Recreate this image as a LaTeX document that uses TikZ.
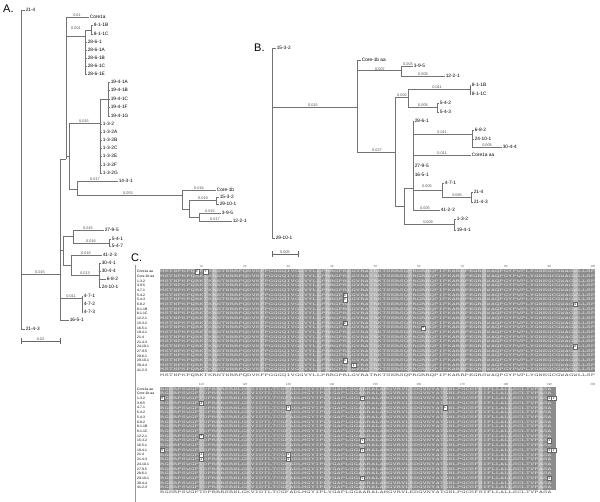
\documentclass[tikz,border=0pt]{standalone}
\usepackage{fontspec}
\setmainfont{Liberation Sans}
\usepackage{graphicx}

\newcommand{\seqA}{MSTNPKPQRKTKRNTNRRPQDVKFPGGGQIVGGVYLLPRRGPRLGVRATRKTSERSQPRGRRQPIPKARRPEGRSWAQPGYPWPLYGNEGCGWAGWLLSP}
\newcommand{\seqB}{RGSRPSWGPTDPRRRSRNLGKVIDTLTCGFADLMGYIPLVGAPLGGAARALAHGVRVLEDGVNYATGNLPGCSFSIFLLALLSCLTVPASA}

\begin{document}
\begin{tikzpicture}
  [
    x=1pt, y=-1pt,
    leaf/.style={anchor=west, inner sep=0.6pt, font=\fontsize{4.8}{5}\selectfont},
    blen/.style={anchor=south, inner sep=0.5pt, font=\fontsize{3.8}{4}\selectfont, text=black!70},
    branch/.style={draw=black!55, line width=0.45pt},
    panel/.style={anchor=base west, inner sep=0pt, font=\fontsize{11}{11}\selectfont},
    rowname/.style={anchor=west, inner sep=0pt, font=\fontsize{3.4}{3.4}\selectfont},
    seqtxt/.style={anchor=west, inner sep=0pt, font=\ttfamily, text=black!8},
    constxt/.style={anchor=west, inner sep=0pt, font=\ttfamily, text=black!70},
    tick/.style={inner sep=0pt, font=\fontsize{3}{3}\selectfont, text=black!60},
    var/.style={draw=black!60, fill=white, inner sep=0pt, minimum width=4.2pt, minimum height=4.3pt, font=\fontsize{3}{3}\selectfont\ttfamily},
    scalebar/.style={draw=black!60, line width=0.45pt, |-|}
  ]
  \useasboundingbox (0,0) rectangle (600,502);

  % panel letters
  \node[panel] (pA) at (3,12.5) {A.};
  \node[panel] (pB) at (254,52) {B.};
  \node[panel] (pC) at (131,262) {C.};

  % tree A: leaves
  \foreach \nm/\x/\y/\t in {
    a1/25/10/21-4, a2/89/17/Core1a, a3/93/25/8-1-1B, a4/93/34/8-1-1C,
    a5/87/42/28-6-1, a6/87/50/28-6-1A, a7/87/58/28-6-1B, a8/87/66/28-6-1C, a9/87/74/28-6-1E,
    a10/110/82/19-4-1A, a11/110/90/19-4-1B, a12/110/99/19-4-1C, a13/110/107/19-4-1F, a14/110/116/19-4-1G,
    a15/102/124/1-3-2, a16/102/132/1-3-2A, a17/102/140/1-3-2B, a18/102/148/1-3-2C,
    a19/102/156/1-3-2E, a20/102/165/1-3-2F, a21/102/173/1-3-2G,
    a22/118/181/14-3-1, a23/216/190/Core-1b, a24/219/197/15-3-2, a25/219/204/29-10-1,
    a26/221/213/3-9-5, a27/232/221/12-2-1,
    a28/104/230/27-9-5, a29/111/239/5-4-1, a30/111/246/5-4-7, a31/102/255/41-2-3,
    a32/101/263/30-4-1, a33/101/271/30-4-4, a34/106/279/6-8-2, a35/101/287/24-10-1,
    a36/83/296/4-7-1, a37/83/304/4-7-2, a38/83/312/4-7-3, a39/69/320/16-5-1, a40/25/329/21-4-3}
    \node[leaf] (\nm) at (\x,\y) {\t};

  % tree A: inner nodes
  \coordinate (ir) at (21,274);
  \coordinate (ip) at (60,274);
  \coordinate (iu) at (66,159);
  \coordinate (ic) at (85,36);
  \coordinate (ib) at (91,30);
  \coordinate (iv) at (69,156);
  \coordinate (ig) at (100,123);
  \coordinate (if) at (108,99);
  \coordinate (iw) at (77,189);
  \coordinate (ix) at (182,195);
  \coordinate (iy) at (189,209);
  \coordinate (iz) at (216,200);
  \coordinate (is) at (199,217);
  \coordinate (iq) at (63,250);
  \coordinate (ik) at (73,236);
  \coordinate (im) at (109,243);
  \coordinate (il) at (71,265);
  \coordinate (io) at (99,275);
  \coordinate (it) at (82,298);

  % tree A: branches
  \foreach \from/\to in {ir/ip,ip/iu,ip/iq,ip/it,iu/ic,iu/iv,ic/ib,iv/ig,iv/iw,ig/if,
    iw/ix,ix/iy,iy/iz,iy/is,iq/ik,iq/il,ik/im,il/io}
    \draw[branch] (\from) |- (\to);
  \foreach \from/\to in {ir/a1,ir/a40,ip/a39,iu/a2,ib/a3,ib/a4,ic/a5,ic/a6,ic/a7,ic/a8,ic/a9,
    if/a10,if/a11,if/a12,if/a13,if/a14,ig/a15,ig/a16,ig/a17,ig/a18,ig/a19,ig/a20,ig/a21,
    iw/a22,ix/a23,iz/a24,iz/a25,is/a26,is/a27,ik/a28,im/a29,im/a30,il/a31,
    io/a32,io/a33,io/a34,io/a35,it/a36,it/a37,it/a38}
    \draw[branch] (\from) |- (\to.west);

  % tree A: branch lengths
  \foreach \x/\y/\t [count=\k] in {77/17/0.01, 76/30/0.001, 84/123/0.015, 95/181/0.017,
    128/195/0.053, 199/190/0.016, 203/200/0.019, 210/213/0.015, 215/221/0.017,
    88/230/0.015, 91/243/0.016, 86/255/0.016, 85/275/0.013, 71/298/0.011, 40/274/0.015}
    \node[blen] (la\k) at (\x,\y) {\t};

  % tree A: scale
  \coordinate (sa0) at (21,341);
  \coordinate (sa1) at (60,341);
  \draw[scalebar] (sa0) -- (sa1) node[midway, blen] (sal) {0.02};

  % tree B: leaves
  \foreach \nm/\x/\y/\t in {
    b1/276/48/15-3-2, b2/361/60/Core-1b aa, b3/413/66/3-9-5, b4/445/76/12-2-1,
    b5/471/85/8-1-1B, b6/471/94/8-1-1C, b7/439/103/5-4-2, b8/439/112/5-4-3,
    b9/414/121/28-6-1, b10/474/130/6-8-2, b11/474/139/24-10-1, b12/502/147/30-4-4,
    b13/471/155/Core1a aa, b14/414/166/27-9-5, b15/414/175/16-5-1, b16/444/183/4-7-1,
    b17/473/192/21-4, b18/473/202/21-4-3, b19/440/210/41-2-3,
    b20/456/219/1-3-2, b21/456/230/19-4-1, b22/275/238/29-10-1}
    \node[leaf] (\nm) at (\x,\y) {\t};

  % tree B: inner nodes
  \coordinate (jr) at (272,107);
  \coordinate (ja) at (357,107);
  \coordinate (jb) at (401,70);
  \coordinate (jc) at (395,152);
  \coordinate (jd) at (408,97);
  \coordinate (je) at (470,89);
  \coordinate (jf) at (437,107);
  \coordinate (jg) at (404,206);
  \coordinate (jh) at (413,188);
  \coordinate (ji) at (472,134);
  \coordinate (jk) at (442,190);
  \coordinate (jl) at (471,197);
  \coordinate (jm) at (454,224);

  % tree B: branches
  \foreach \from/\to in {jr/ja,ja/jb,ja/jc,jc/jd,jc/jg,jd/je,jd/jf,jg/jh,jg/jm,jh/ji,jh/jk,jk/jl}
    \draw[branch] (\from) |- (\to);
  \foreach \from/\to in {jr/b1,jr/b22,ja/b2,jb/b3,jb/b4,je/b5,je/b6,jf/b7,jf/b8,jh/b9,
    ji/b10,ji/b11,ji/b12,jh/b13,jh/b14,jh/b15,jk/b16,jl/b17,jl/b18,jh/b19,jm/b20,jm/b21}
    \draw[branch] (\from) |- (\to.west);

  % tree B: branch lengths
  \foreach \x/\y/\t [count=\k] in {313/107/0.015, 380/71/0.007, 408/66/0.003, 423/76/0.008,
    402/97/0.002, 437/89/0.011, 423/107/0.005, 377/152/0.027, 442/134/0.011, 487/147/0.005,
    442/155/0.011, 427/188/0.005, 457/197/0.085, 425/210/0.005, 428/224/0.009}
    \node[blen] (lb\k) at (\x,\y) {\t};

  % tree B: scale
  \coordinate (sb0) at (272,254);
  \coordinate (sb1) at (298,254);
  \draw[scalebar] (sb0) -- (sb1) node[midway, blen] (sbl) {0.005};

  % alignment frame
  \coordinate (fr0) at (135,265);
  \coordinate (fr1) at (135,502);
  \draw[black!40, line width=0.4pt] (fr0) -- (fr1);

  % alignment backgrounds
  \fill[black!45] (160,269.4) rectangle (595.2,372.4);
  \foreach \c in {11,13,24,33,37,39,44,49,50,58,62,70,75,96}
    \fill[black!30] ({160+4.35*(\c-1)},269.4) rectangle +(4.35,103);
  \fill[black!45] (160,386.7) rectangle (555.9,490.2);
  \foreach \c in {103,110,114,121,130,139,147,152,158,166,174,181,188}
    \fill[black!30] ({160+4.35*(\c-101)},386.7) rectangle +(4.35,103.5);

  % ruler numbers
  \foreach \n in {10,20,...,100}
    \node[tick] (ta\n) at ({162.2+4.35*(\n-1)},266) {\n};
  \foreach \n in {110,120,...,200}
    \node[tick] (tb\n) at ({162.2+4.35*(\n-101)},384) {\n};

  % rows of both blocks
  \foreach \nm [count=\i] in {Core1a aa, Core-1b aa, 1-3-2, 3-9-5, 4-7-1, 5-4-2, 5-4-3, 6-8-2,
    8-1-1B, 8-1-1C, 12-2-1, 15-3-2, 16-5-1, 19-4-1, 21-4, 21-4-3, 24-10-1, 27-9-5,
    28-6-1, 29-10-1, 30-4-4, 41-2-3}
  {
    \node[rowname] (na\i) at (137,{271.7+4.68*(\i-1)}) {\nm};
    \node[seqtxt] (sa\i) at (160,{271.7+4.68*(\i-1)}) {\resizebox{435pt}{2.5pt}{\seqA}};
    \node[rowname] (nb\i) at (137,{389+4.7*(\i-1)}) {\nm};
    \node[seqtxt] (sb\i) at (160,{389+4.7*(\i-1)}) {\resizebox{391.5pt}{2.5pt}{\seqB}};
  }

  % consensus rows
  \node[constxt] (ca) at (160,375.5) {\resizebox{435pt}{2.5pt}{\seqA}};
  \node[constxt] (cb) at (160,492.5) {\resizebox{391.5pt}{2.5pt}{\seqB}};

  % variant residues, block 1
  \foreach \r/\c/\ch in {1/9/S, 1/11/T, 6/43/S, 7/43/S, 12/43/S, 20/43/S, 21/45/A,
    8/96/H, 17/96/H, 13/61/Q}
    \node[var] (va\r-\c) at ({162.2+4.35*(\c-1)},{271.7+4.68*(\r-1)}) {\ch};
  % variant residues, block 2
  \foreach \r/\c/\ch in {3/101/M, 14/101/M, 4/110/A, 11/110/A, 15/110/A, 16/110/A,
    5/130/S, 15/130/S, 16/130/S, 3/147/V, 12/147/V, 14/147/V, 20/147/V,
    5/166/A, 3/190/S, 12/190/S, 14/190/S, 20/190/S, 3/191/G, 14/191/G}
    \node[var] (vb\r-\c) at ({162.2+4.35*(\c-101)},{389+4.7*(\r-1)}) {\ch};
\end{tikzpicture}
\end{document}
